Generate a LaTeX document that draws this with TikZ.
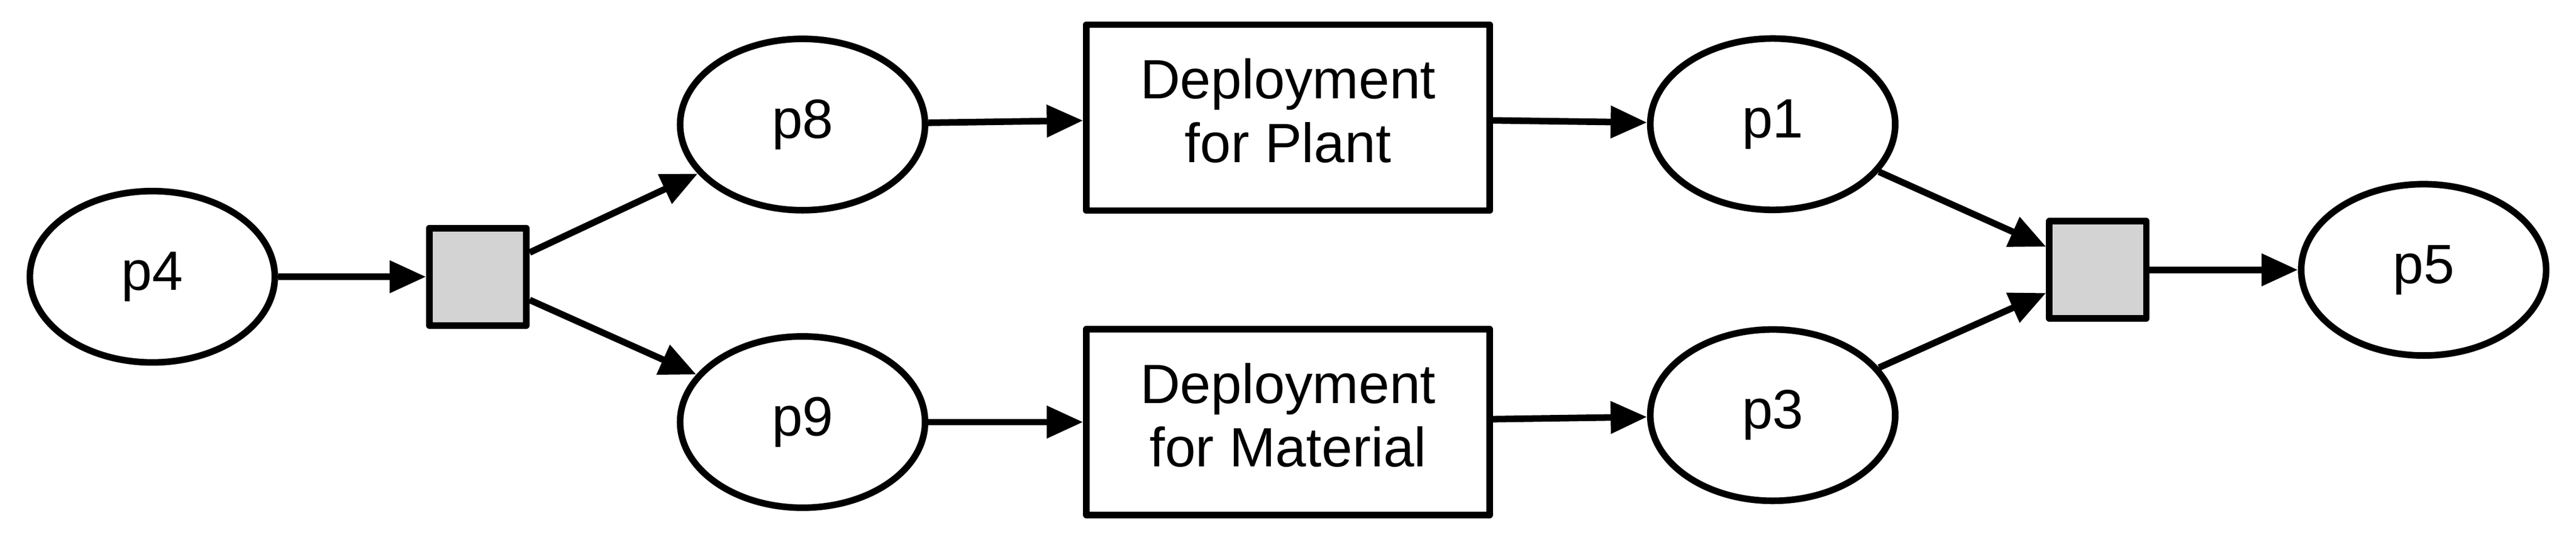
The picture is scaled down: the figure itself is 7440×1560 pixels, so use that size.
\documentclass[tikz,border=0pt]{standalone}
\usepackage{fontspec}
\setmainfont{Liberation Sans}
\usetikzlibrary{arrows.meta,shapes.geometric}
\definecolor{tgray}{RGB}{211,211,211}
\newcommand{\lblfont}{\fontsize{45.5pt}{52.3pt}\selectfont}
\newcommand{\lastdepth}{\rule[-0.26em]{0pt}{0.26em}}
\begin{document}
\begin{tikzpicture}[x=0.01cm,y=-0.01cm,line width=0.19cm,
  place/.style={ellipse,draw,line join=round,minimum width=7.07cm,minimum height=4.95cm,inner sep=0pt,font=\lblfont},
  trans/.style={rectangle,draw,fill=tgray,line join=round,minimum width=2.8cm,minimum height=2.81cm,inner sep=0pt},
  task/.style={rectangle,draw,line join=round,minimum width=11.64cm,minimum height=5.37cm,inner sep=0pt,align=center,font=\lblfont},
  arc/.style={-{Triangle[length=1.05cm,width=0.9cm]}}]
\useasboundingbox (0,0) rectangle (7440,1560);
\node[place] (p4) at (440,800) {p4};
\node[trans] (t1) at (1380,800) {};
\node[place] (p8) at (2318,360) {p8};
\node[place] (p9) at (2318,1220) {p9};
\node[task] (b1) at (3720,340) {Deployment\\for Plant\lastdepth};
\node[task] (b2) at (3720,1220) {Deployment\\for Material\lastdepth};
\node[place] (p1) at (5120,359) {p1};
\node[place] (p3) at (5120,1200) {p3};
\node[trans] (t2) at (6059,780) {};
\node[place] (p5) at (7000,780) {p5};
\draw[arc] (p4) -- (t1);
\draw[arc] (t1) -- (p8);
\draw[arc] (t1) -- (p9);
\draw[arc] (p8) -- (b1);
\draw[arc] (p9) -- (b2);
\draw[arc] (b1) -- (p1);
\draw[arc] (b2) -- (p3);
\draw[arc] (p1) -- (t2);
\draw[arc] (p3) -- (t2);
\draw[arc] (t2) -- (p5);
\end{tikzpicture}
\end{document}
